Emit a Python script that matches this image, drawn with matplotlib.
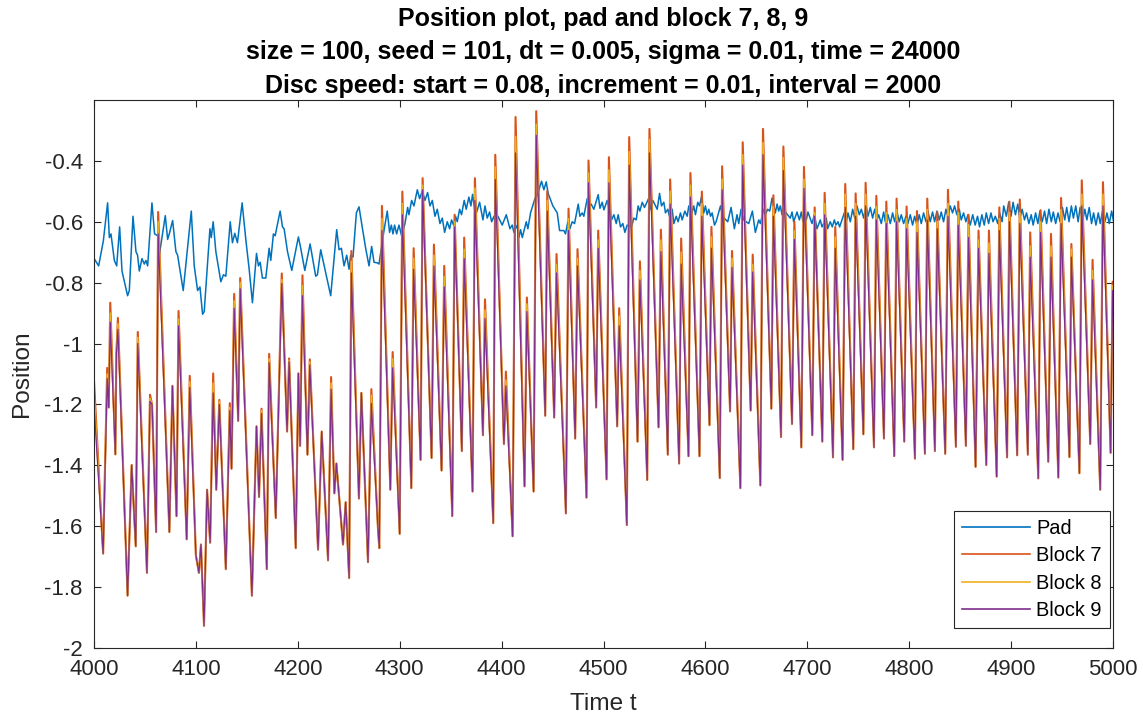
import numpy as np
import matplotlib.pyplot as plt

plt.rcParams['font.family'] = ['Liberation Sans', 'DejaVu Sans']

# ---- pad position (time, value) ----
pad_t = [4000, 4004.6, 4009.2, 4013.4, 4015.1, 4016.7, 4020, 4022.3, 4025.2, 4027.5,
         4033, 4034.7, 4038.3, 4041.2, 4042.8, 4044.5, 4047.1, 4049.4, 4051, 4052.7,
         4056.9, 4059.5, 4062.5, 4064.1, 4070, 4072.3, 4073.9, 4077.2, 4080.4, 4082.1,
         4087.6, 4095.5, 4098.4, 4101.7, 4104, 4106.6, 4108.2, 4113.8, 4115.1, 4117,
         4119.6, 4124.5, 4127.1, 4129.4, 4133.7, 4135.9, 4138.2, 4140.8, 4145.4, 4149,
         4152.3, 4155.5, 4159.5, 4161.4, 4163.1, 4165.3, 4168.6, 4171.9, 4173.5, 4176.1,
         4177.8, 4182.7, 4185, 4186.6, 4189.9, 4194.1, 4200.6, 4202.9, 4206.9, 4212.1,
         4217.6, 4219.3, 4222.5, 4232.3, 4238.2, 4240.5, 4242.8, 4245.4, 4248, 4250.3,
         4251.9, 4254.2, 4257.5, 4260.1, 4262.4, 4266.6, 4269.9, 4272.5, 4274.8, 4278,
         4279.7, 4284.6, 4287.8, 4290.1, 4291.8, 4293.4, 4295, 4297, 4299.3, 4301.9,
         4305.2, 4307.8, 4309.1, 4311.7, 4314, 4317.3, 4319.5, 4322.2, 4324.8, 4327.4,
         4329.7, 4332, 4334.6, 4336.9, 4339.5, 4341.8, 4344.1, 4346.7, 4349, 4350.9,
         4352.9, 4354.8, 4356.5, 4358.8, 4360.7, 4363.3, 4365.3, 4367.9, 4369.9, 4371.5,
         4374.5, 4378.4, 4381.7, 4383.7, 4385.9, 4388.2, 4390.2, 4392.5, 4394.1, 4396.4,
         4400.6, 4404.6, 4408.2, 4410.4, 4412.1, 4415.4, 4417, 4418.6, 4420.3, 4424.2,
         4425.8, 4428.4, 4432.7, 4435, 4439.2, 4441.5, 4443.8, 4445.7, 4450.3, 4454.6,
         4456.9, 4461.1, 4462.7, 4465, 4467, 4469.3, 4471.6, 4475.2, 4476.8, 4479.1,
         4480.7, 4484, 4485.6, 4487.9, 4490.5, 4494.8, 4496.5, 4498.7, 4500.4, 4503.6,
         4507.9, 4510.2, 4512.5, 4514.4, 4516.7, 4519, 4521, 4523.2, 4527.5, 4529.8,
         4532.1, 4534, 4535.7, 4538, 4540.2, 4544.5, 4546.1, 4548.4, 4552.7, 4555,
         4556.9, 4559.2, 4560.8, 4563.1, 4564.7, 4567.4, 4569, 4571.3, 4573.2, 4575.5,
         4577.2, 4579.8, 4582.1, 4583.7, 4586.3, 4588.6, 4590.2, 4592.5, 4594.2, 4596.1,
         4598.4, 4600, 4601.7, 4603.3, 4605, 4606.6, 4608.9, 4610.5, 4614.8, 4616.8,
         4619, 4621.9, 4625.2, 4628.4, 4631, 4632.7, 4635, 4637.6, 4642.5, 4646.1,
         4649, 4652.3, 4653.9, 4657.2, 4658.8, 4661.1, 4663.1, 4665.4, 4668.6, 4670.3,
         4671.9, 4673.5, 4675.2, 4678.4, 4683.3, 4685, 4686.6, 4689.9, 4692.2, 4694.1,
         4695.7, 4699, 4700.6, 4704.6, 4706.9, 4709.5, 4712.7, 4714.4, 4718.6, 4719.9,
         4722.5, 4724.5, 4726.5, 4728.1, 4730.1, 4731.7, 4736.3, 4738.2, 4739.9, 4742.2,
         4744.5, 4746.5, 4748.7, 4751, 4753, 4755.3, 4757.6, 4759.5, 4761.8, 4764.1,
         4766.1, 4768.3, 4770, 4772.6, 4774.9, 4776.5, 4779.1, 4781.4, 4783.7, 4785.7,
         4788, 4790.2, 4792.2, 4794.5, 4796.8, 4798.7, 4801, 4803.3, 4805.3, 4807.6,
         4809.8, 4811.8, 4814.1, 4816.4, 4818.3, 4820.6, 4822.9, 4824.9, 4827.2, 4829.5,
         4831.4, 4833.7, 4836, 4838, 4840.2, 4842.5, 4844.5, 4846.8, 4849.1, 4851,
         4853.3, 4855.6, 4857.6, 4859.8, 4862.3, 4864.7, 4867, 4869, 4871.3, 4873.6,
         4875.6, 4877.9, 4880.2, 4882.2, 4884.5, 4886.8, 4888.7, 4891.1, 4892.7, 4895.3,
         4897.6, 4899.9, 4901.9, 4904.2, 4906.5, 4908.5, 4910.8, 4913.1, 4915.1, 4917.4,
         4919.7, 4921.6, 4924, 4926.2, 4928.2, 4930.5, 4932.8, 4934.8, 4937.1, 4939.4,
         4941.4, 4943.7, 4946, 4948, 4950.3, 4952.6, 4954.5, 4956.8, 4959.1, 4961.1,
         4963.4, 4965.7, 4967.7, 4970, 4972.3, 4974.3, 4976.6, 4978.9, 4980.9, 4983.2,
         4985.5, 4987.4, 4989.7, 4992, 4994, 4996.3, 4998.6, 5000.6]
pad_v = [-0.72, -0.745, -0.663, -0.538, -0.652, -0.64, -0.727, -0.745, -0.617, -0.762,
         -0.843, -0.826, -0.582, -0.698, -0.71, -0.762, -0.721, -0.739, -0.727, -0.745,
         -0.538, -0.64, -0.646, -0.71, -0.58, -0.658, -0.64, -0.596, -0.698, -0.71,
         -0.826, -0.565, -0.745, -0.826, -0.814, -0.904, -0.895, -0.623, -0.652, -0.6,
         -0.698, -0.797, -0.774, -0.779, -0.6, -0.669, -0.638, -0.669, -0.538, -0.658,
         -0.756, -0.866, -0.704, -0.745, -0.733, -0.785, -0.785, -0.687, -0.727, -0.64,
         -0.646, -0.565, -0.617, -0.623, -0.698, -0.76, -0.65, -0.687, -0.76, -0.673,
         -0.779, -0.774, -0.692, -0.843, -0.626, -0.692, -0.687, -0.745, -0.71, -0.756,
         -0.71, -0.716, -0.571, -0.551, -0.6, -0.687, -0.745, -0.681, -0.733, -0.735,
         -0.739, -0.629, -0.565, -0.635, -0.611, -0.64, -0.611, -0.64, -0.611, -0.646,
         -0.606, -0.553, -0.577, -0.53, -0.548, -0.495, -0.524, -0.499, -0.53, -0.504,
         -0.548, -0.53, -0.582, -0.559, -0.606, -0.588, -0.635, -0.6, -0.623, -0.594,
         -0.611, -0.582, -0.6, -0.559, -0.577, -0.53, -0.559, -0.519, -0.548, -0.51,
         -0.58, -0.536, -0.594, -0.548, -0.588, -0.568, -0.6, -0.582, -0.608, -0.582,
         -0.611, -0.577, -0.623, -0.611, -0.635, -0.611, -0.652, -0.626, -0.652, -0.6,
         -0.623, -0.571, -0.524, -0.513, -0.467, -0.495, -0.469, -0.507, -0.548, -0.571,
         -0.629, -0.629, -0.64, -0.6, -0.623, -0.6, -0.606, -0.542, -0.582, -0.571,
         -0.582, -0.524, -0.548, -0.542, -0.559, -0.511, -0.556, -0.536, -0.561, -0.53,
         -0.594, -0.577, -0.606, -0.577, -0.617, -0.606, -0.635, -0.611, -0.617, -0.588,
         -0.594, -0.548, -0.565, -0.536, -0.553, -0.522, -0.559, -0.53, -0.559, -0.507,
         -0.548, -0.536, -0.571, -0.559, -0.582, -0.559, -0.606, -0.582, -0.6, -0.571,
         -0.594, -0.565, -0.582, -0.548, -0.577, -0.548, -0.577, -0.536, -0.548, -0.519,
         -0.571, -0.548, -0.577, -0.559, -0.582, -0.571, -0.611, -0.6, -0.548, -0.58,
         -0.59, -0.6, -0.553, -0.623, -0.577, -0.606, -0.559, -0.594, -0.606, -0.565,
         -0.635, -0.594, -0.606, -0.559, -0.577, -0.559, -0.565, -0.522, -0.571, -0.542,
         -0.565, -0.548, -0.577, -0.568, -0.588, -0.568, -0.6, -0.568, -0.594, -0.568,
         -0.6, -0.594, -0.568, -0.606, -0.577, -0.623, -0.594, -0.617, -0.588, -0.623,
         -0.6, -0.617, -0.594, -0.611, -0.6, -0.617, -0.571, -0.6, -0.571, -0.6,
         -0.559, -0.588, -0.548, -0.577, -0.559, -0.588, -0.548, -0.582, -0.553, -0.588,
         -0.559, -0.594, -0.577, -0.606, -0.568, -0.6, -0.577, -0.606, -0.571, -0.6,
         -0.568, -0.6, -0.577, -0.606, -0.582, -0.606, -0.577, -0.611, -0.582, -0.611,
         -0.577, -0.606, -0.571, -0.6, -0.565, -0.6, -0.568, -0.6, -0.565, -0.594,
         -0.568, -0.6, -0.559, -0.582, -0.548, -0.571, -0.548, -0.577, -0.559, -0.594,
         -0.571, -0.6, -0.577, -0.611, -0.577, -0.611, -0.582, -0.617, -0.577, -0.611,
         -0.571, -0.606, -0.571, -0.6, -0.582, -0.606, -0.571, -0.6, -0.548, -0.582,
         -0.536, -0.582, -0.536, -0.577, -0.542, -0.588, -0.559, -0.594, -0.571, -0.606,
         -0.577, -0.611, -0.571, -0.606, -0.565, -0.6, -0.565, -0.606, -0.559, -0.6,
         -0.568, -0.606, -0.571, -0.6, -0.553, -0.594, -0.553, -0.6, -0.548, -0.588,
         -0.548, -0.6, -0.553, -0.6, -0.559, -0.594, -0.553, -0.606, -0.571, -0.611,
         -0.571, -0.606, -0.565, -0.6, -0.571, -0.606, -0.565, -0.6]

# ---- blocks: points shared by blocks 7, 8, 9 (troughs and small bumps) ----
shared_t = [4009, 4014.5, 4021, 4022, 4033, 4037, 4041, 4052, 4057, 4061,
            4074, 4077, 4081, 4091, 4100, 4103, 4105, 4108, 4111, 4114,
            4120, 4129.4, 4135, 4141.5, 4155, 4159.5, 4162, 4169.6, 4178.4, 4189.5,
            4198, 4200.6, 4202.3, 4209.5, 4219.9, 4223.5, 4229.7, 4235.9, 4237.9, 4244.4,
            4247, 4250.4, 4260, 4262.4, 4268.9, 4278.7, 4280, 4290.8, 4300, 4311.4,
            4320.5, 4331.3, 4341.1, 4351.6, 4361, 4371.5, 4381.7, 4391.8, 4402.3, 4410.8,
            4422.5, 4431.4, 4442.8, 4451.6, 4463.1, 4472.2, 4483.3, 4492.8, 4503, 4513.4,
            4522.9, 4533.4, 4542.9, 4554, 4563.1, 4574.2, 4583.4, 4594.2, 4604, 4614.1,
            4624.2, 4634.3, 4644.4, 4653.9, 4664.7, 4674.2, 4685, 4694.1, 4704.9, 4714.7,
            4725.2, 4734.6, 4745.1, 4755, 4765.4, 4775.2, 4785.3, 4795.1, 4805.6, 4815.4,
            4825.2, 4835.3, 4845.8, 4855.6, 4865.1, 4875.6, 4885.8, 4896, 4905.9, 4916.4,
            4926.6, 4936.4, 4946.3, 4957.2, 4967, 4977.6, 4987.4, 4997.6, 5003]
shared_v = [-1.69, -1.21, -1.364, -1.034, -1.828, -1.399, -1.666, -1.753, -1.2, -1.619,
            -1.619, -1.139, -1.567, -1.643, -1.695, -1.753, -1.66, -1.927, -1.48, -1.654,
            -1.48, -1.741, -1.411, -1.254, -1.828, -1.272, -1.504, -1.741, -1.573, -1.289,
            -1.672, -1.098, -1.336, -1.365, -1.677, -1.289, -1.712, -1.492, -1.394, -1.66,
            -1.521, -1.77, -1.509, -1.162, -1.718, -1.608, -1.672, -1.48, -1.625, -1.475,
            -1.382, -1.376, -1.417, -1.567, -1.353, -1.486, -1.301, -1.59, -1.33, -1.633,
            -1.469, -1.486, -1.237, -1.243, -1.558, -1.312, -1.506, -1.21, -1.446, -1.272,
            -1.596, -1.322, -1.448, -1.275, -1.365, -1.394, -1.37, -1.37, -1.268, -1.442,
            -1.223, -1.475, -1.22, -1.466, -1.214, -1.307, -1.264, -1.341, -1.301, -1.322,
            -1.374, -1.382, -1.347, -1.298, -1.341, -1.312, -1.37, -1.322, -1.378, -1.362,
            -1.353, -1.362, -1.339, -1.336, -1.405, -1.399, -1.437, -1.374, -1.367, -1.365,
            -1.443, -1.388, -1.44, -1.373, -1.426, -1.33, -1.48, -1.359, -1.05]

# ---- blocks: peak times and the peak value of each block ----
peak_t = [4000, 4013, 4016, 4023.5, 4043, 4055, 4063, 4083, 4094, 4117,
          4123, 4133.3, 4137.6, 4143.5, 4164.4, 4171.9, 4184.3, 4191.5, 4204.6, 4211.8,
          4232.7, 4252.6, 4272.2, 4282.6, 4293.1, 4302.6, 4313.7, 4322.5, 4333.6, 4343.7,
          4353.9, 4363.3, 4373.8, 4383.7, 4393.8, 4404.2, 4413.7, 4424.8, 4434, 4444.8,
          4453.9, 4465.7, 4474.5, 4485.3, 4494.8, 4505.3, 4515.4, 4525.2, 4535.7, 4545.1,
          4556.3, 4565.4, 4576.2, 4585.3, 4596.5, 4605.9, 4616.4, 4626.1, 4636.6, 4646.4,
          4656.5, 4666.7, 4676.5, 4687.3, 4696.7, 4707.2, 4717, 4727.4, 4737.2, 4747.4,
          4757.2, 4767.7, 4777.5, 4787.6, 4797.4, 4807.6, 4817.7, 4827.5, 4838, 4848.1,
          4858.2, 4868, 4878.2, 4888.4, 4898.3, 4908.5, 4918.7, 4928.9, 4939.1, 4949,
          4959.1, 4969.3, 4979.9, 4990.1, 4999.6]
peak7 = [-1.12, -1.08, -0.866, -0.916, -0.962, -1.168, -0.568, -0.893, -1.106, -1.098,
         -1.185, -1.196, -0.837, -0.785, -1.214, -1.034, -0.77, -1.049, -0.776, -1.052,
         -1.11, -0.696, -1.15, -0.548, -1.028, -0.501, -0.687, -0.457, -0.675, -0.745,
         -0.577, -0.652, -0.457, -0.855, -0.38, -1.092, -0.256, -0.849, -0.237, -0.499,
         -0.706, -0.557, -0.69, -0.399, -0.629, -0.388, -0.884, -0.322, -0.73, -0.295,
         -0.626, -0.461, -0.655, -0.44, -0.501, -0.617, -0.418, -0.696, -0.339, -0.708,
         -0.295, -0.513, -0.353, -0.6, -0.42, -0.553, -0.505, -0.617, -0.476, -0.507,
         -0.472, -0.515, -0.534, -0.524, -0.55, -0.565, -0.524, -0.568, -0.495, -0.534,
         -0.577, -0.629, -0.629, -0.553, -0.534, -0.527, -0.635, -0.562, -0.64, -0.522,
         -0.673, -0.464, -0.725, -0.47, -0.797]
peak8 = [-1.16, -1.1, -0.9, -0.935, -0.98, -1.18, -0.6, -0.92, -1.125, -1.13,
         -1.19, -1.21, -0.86, -0.8, -1.22, -1.05, -0.79, -1.055, -0.81, -1.06,
         -1.13, -0.73, -1.17, -0.59, -1.05, -0.54, -0.72, -0.48, -0.71, -0.78,
         -0.6, -0.69, -0.49, -0.89, -0.42, -1.12, -0.32, -0.87, -0.28, -0.53,
         -0.74, -0.59, -0.72, -0.44, -0.66, -0.43, -0.91, -0.37, -0.76, -0.33,
         -0.66, -0.5, -0.7, -0.48, -0.54, -0.65, -0.46, -0.72, -0.38, -0.74,
         -0.34, -0.55, -0.39, -0.63, -0.46, -0.57, -0.54, -0.65, -0.51, -0.54,
         -0.51, -0.55, -0.57, -0.56, -0.59, -0.6, -0.56, -0.6, -0.54, -0.57,
         -0.61, -0.66, -0.67, -0.59, -0.57, -0.57, -0.68, -0.6, -0.68, -0.56,
         -0.69, -0.51, -0.76, -0.51, -0.81]
peak9 = [-1.2, -1.115, -0.93, -0.953, -1.0, -1.19, -0.64, -0.942, -1.144, -1.162,
         -1.2, -1.22, -0.884, -0.82, -1.23, -1.063, -0.803, -1.06, -0.843, -1.07,
         -1.15, -0.768, -1.197, -0.629, -1.08, -0.577, -0.756, -0.495, -0.745, -0.814,
         -0.617, -0.721, -0.53, -0.918, -0.461, -1.139, -0.374, -0.895, -0.316, -0.565,
         -0.768, -0.629, -0.745, -0.472, -0.687, -0.472, -0.942, -0.414, -0.791, -0.374,
         -0.698, -0.542, -0.739, -0.519, -0.582, -0.687, -0.495, -0.75, -0.414, -0.765,
         -0.38, -0.582, -0.432, -0.658, -0.49, -0.582, -0.577, -0.687, -0.553, -0.582,
         -0.548, -0.594, -0.606, -0.6, -0.623, -0.635, -0.594, -0.623, -0.582, -0.611,
         -0.652, -0.687, -0.704, -0.629, -0.6, -0.606, -0.716, -0.635, -0.716, -0.606,
         -0.716, -0.548, -0.791, -0.548, -0.826]


def block_series(peaks):
    t = np.concatenate([shared_t, peak_t])
    v = np.concatenate([shared_v, peaks])
    order = np.argsort(t)
    return t[order], v[order]


fig = plt.figure(figsize=(11.43, 7.19), dpi=100)
ax = fig.add_axes([0.0822, 0.0987, 0.8916, 0.7623])

ax.plot(pad_t, pad_v, color='#0072BD', lw=1.1, label='Pad')
# block 7 and 8 drawn a bit wider so they show round the edges of block 9
for peaks, col, lab, w in [(peak7, '#D95319', 'Block 7', 1.5),
                           (peak8, '#EDB120', 'Block 8', 1.2),
                           (peak9, '#7E2F8E', 'Block 9', 0.9)]:
    t, v = block_series(peaks)
    ax.plot(t, v, color=col, lw=w, label=lab)

ax.set_xlim(4000, 5000)
ax.set_ylim(-2, -0.2)
ax.set_xticks(np.arange(4000, 5001, 100))
yt = np.round(np.arange(-2, -0.39, 0.2), 1)
ax.set_yticks(yt)
ax.set_yticklabels(['%g' % v for v in yt])

dark = '#262626'
for s in ax.spines.values():
    s.set_color(dark)
    s.set_linewidth(0.8)
ax.tick_params(direction='in', length=5, width=0.8, colors=dark,
               labelsize=16, top=True, right=True)
ax.tick_params(axis='x', pad=8)
ax.tick_params(axis='y', pad=8)

ax.set_xlabel('Time t', fontsize=17.6, color=dark, labelpad=9)
ax.set_ylabel('Position', fontsize=17.6, color=dark, labelpad=8)
ax.set_title('Position plot, pad and block 7, 8, 9\n'
             'size = 100, seed = 101, dt = 0.005, sigma = 0.01, time = 24000\n'
             'Disc speed: start = 0.08, increment = 0.01, interval = 2000',
             fontsize=18, fontweight='bold', linespacing=1.5, pad=5)

leg = ax.legend(loc='lower right', bbox_to_anchor=(0.997, 0.0365), borderaxespad=0,
                fontsize=14.4, handlelength=3.4, handletextpad=0.3, labelspacing=0.42,
                borderpad=0.4, fancybox=False, framealpha=1)
leg.get_frame().set_edgecolor(dark)
leg.get_frame().set_linewidth(0.8)
for h in leg.get_lines():
    h.set_linewidth(1.2)

fig.savefig('out.png', dpi=100)
